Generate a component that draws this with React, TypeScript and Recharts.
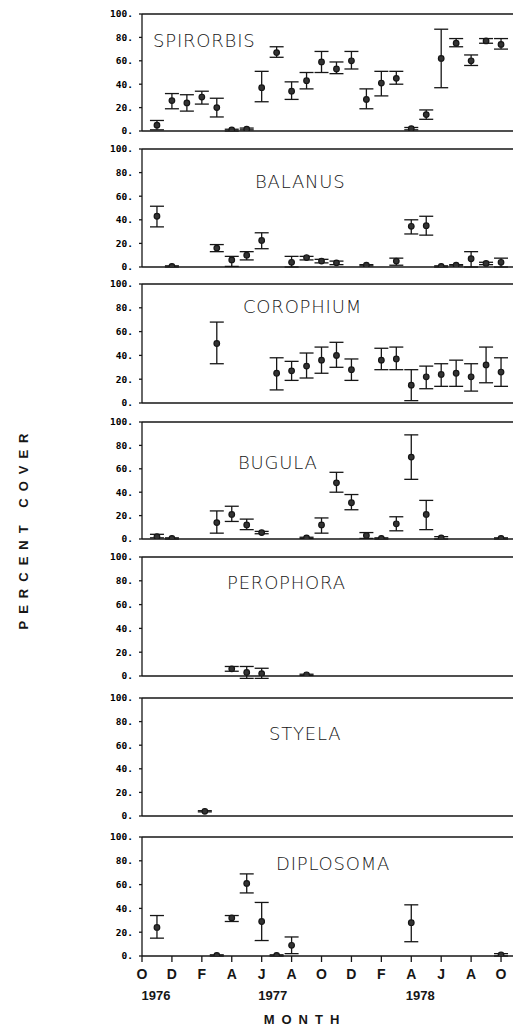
import { ErrorBar, Scatter, ScatterChart, XAxis, YAxis } from "recharts";

const INK = "#161616";

// month 0 = October 1976, month 24 = October 1978
const MONTH_TICKS = [0, 2, 4, 6, 8, 10, 12, 14, 16, 18, 20, 22, 24];
const MONTH_LETTERS = ["O", "D", "F", "A", "J", "A", "O", "D", "F", "A", "J", "A", "O"];
const Y_TICKS = [0, 20, 40, 60, 80, 100];
const YEAR_LABELS = [
  { at: 0, text: "1976", dx: 14 },
  { at: 8, text: "1977", dx: 11 },
  { at: 18, text: "1978", dx: 9 },
];

// percent cover: mean, lower and upper end of the bar
const spirorbisMonth = [1, 2, 3, 4, 5, 6, 7, 8, 9, 10, 11, 12, 13, 14, 15, 16, 17, 18, 19, 20, 21, 22, 23, 24];
const spirorbisMean = [5, 26, 24, 29, 20, 1, 1.5, 37, 67, 34, 43, 59, 53, 60, 27, 41, 45, 2, 14, 62, 75, 60, 77, 74];
const spirorbisLow = [1, 19, 17, 23, 12, 0, 1, 25, 63, 27, 36, 50, 49, 53, 19, 30, 40, 1, 10, 37, 72, 56, 75, 70];
const spirorbisHigh = [9, 32, 31, 34, 28, 1.5, 2.5, 51, 72, 42, 50, 68, 59, 68, 36, 51, 51, 3, 18, 87, 79, 65, 79, 79];

const balanusMonth = [1, 2, 5, 6, 7, 8, 10, 11, 12, 13, 15, 17, 18, 19, 20, 21, 22, 23, 24];
const balanusMean = [43, 0.5, 16, 6, 10, 22.5, 4, 8, 5, 3.5, 1.5, 5, 34.5, 35, 0.5, 1.5, 7, 3, 4];
const balanusLow = [34, 0, 13, 0.5, 6, 15.5, 0, 6, 3.5, 2, 1, 1.5, 28, 27, 0, 1, 0, 2, 0];
const balanusHigh = [51.5, 1, 19, 9, 13, 29, 9, 9, 6.5, 5, 2, 7.5, 40, 43, 1, 2, 13, 4, 7.5];

const corophiumMonth = [5, 9, 10, 11, 12, 13, 14, 16, 17, 18, 19, 20, 21, 22, 23, 24];
const corophiumMean = [50, 25, 27, 31, 36, 40, 28, 36, 37, 15, 22, 24, 25, 22, 32, 26];
const corophiumLow = [33, 11, 19, 21, 25, 30, 19, 28, 28, 2, 12, 14, 14, 10, 17, 14];
const corophiumHigh = [68, 38, 35, 42, 47, 51, 37, 46, 47, 28, 31, 33, 36, 33, 47, 38];

const bugulaMonth = [1, 2, 5, 6, 7, 8, 11, 12, 13, 14, 15, 16, 17, 18, 19, 20, 24];
const bugulaMean = [2, 0.5, 14, 21, 12, 5.5, 1, 12, 48, 31, 3, 0.5, 13, 70, 21, 1, 0.5];
const bugulaLow = [1, 0, 5, 15, 8, 4.5, 0.5, 5, 40, 25, 0.5, 0, 7, 51, 8, 0, 0];
const bugulaHigh = [4, 1, 24, 28, 17, 6.5, 1.5, 18, 57, 38, 5.5, 1, 19, 89, 33, 2, 1];

const perophoraMonth = [6, 7, 8, 11];
const perophoraMean = [6, 3, 2, 1];
const perophoraLow = [4, -2, -2, 0.5];
const perophoraHigh = [8, 8, 6.5, 1.5];

const styelaMonth = [4.2];
const styelaMean = [4];
const styelaLow = [3.5];
const styelaHigh = [4.5];

const diplosomaMonth = [1, 5, 6, 7, 8, 9, 10, 18, 24];
const diplosomaMean = [24, 0.5, 32, 61, 29, 0.5, 9, 28, 1];
const diplosomaLow = [15, 0, 29, 53, 13, 0, 2, 12, 0];
const diplosomaHigh = [34, 1, 34, 69, 45, 1, 16, 43, 2];

const SPECIES = [
  { name: "SPIRORBIS", month: spirorbisMonth, mean: spirorbisMean, low: spirorbisLow, high: spirorbisHigh },
  { name: "BALANUS", month: balanusMonth, mean: balanusMean, low: balanusLow, high: balanusHigh },
  { name: "COROPHIUM", month: corophiumMonth, mean: corophiumMean, low: corophiumLow, high: corophiumHigh },
  { name: "BUGULA", month: bugulaMonth, mean: bugulaMean, low: bugulaLow, high: bugulaHigh },
  { name: "PEROPHORA", month: perophoraMonth, mean: perophoraMean, low: perophoraLow, high: perophoraHigh },
  { name: "STYELA", month: styelaMonth, mean: styelaMean, low: styelaLow, high: styelaHigh },
  { name: "DIPLOSOMA", month: diplosomaMonth, mean: diplosomaMean, low: diplosomaLow, high: diplosomaHigh },
];

// page position of the 100 line and 0 line of each panel, and where its name sits
const PANELS = [
  { top: 14, bottom: 131, labelX: 153, labelY: 47 },
  { top: 149, bottom: 267, labelX: 255, labelY: 188 },
  { top: 284, bottom: 403, labelX: 243, labelY: 313 },
  { top: 422, bottom: 539, labelX: 238, labelY: 469 },
  { top: 557, bottom: 676, labelX: 227, labelY: 589 },
  { top: 698, bottom: 816, labelX: 269, labelY: 740 },
  { top: 837, bottom: 956, labelX: 276, labelY: 870 },
];

const W = 513;
const TOP_PAD = 12;
const axisStyle = { stroke: INK, strokeWidth: 1.3 };

function Dot(props: any) {
  const { cx, cy } = props;
  if (cx == null || cy == null) return null;
  return <circle cx={cx} cy={cy} r={2.8} fill="#333" stroke={INK} strokeWidth={1.2} />;
}

function MonthTick(props: any) {
  const { x, y, payload } = props;
  const i = MONTH_TICKS.indexOf(payload.value);
  const yr = YEAR_LABELS.find((l) => l.at === payload.value);
  return (
    <g>
      <text
        x={x}
        y={y + 15}
        textAnchor="middle"
        fill={INK}
        style={{ fontFamily: "'Liberation Sans Narrow', 'Liberation Sans', sans-serif", fontWeight: 700, fontSize: 14 }}
      >
        {MONTH_LETTERS[i]}
      </text>
      {yr && (
        <text
          x={x + yr.dx}
          y={y + 36}
          textAnchor="middle"
          fill={INK}
          style={{ fontFamily: "'Liberation Sans', sans-serif", fontWeight: 700, fontSize: 13 }}
        >
          {yr.text}
        </text>
      )}
    </g>
  );
}

function Panel({ idx }: { idx: number }) {
  const sp = SPECIES[idx];
  const pos = PANELS[idx];
  const last = idx === SPECIES.length - 1;
  const bottomPad = last ? 1027 - pos.bottom : 10;
  const h = TOP_PAD + (pos.bottom - pos.top) + bottomPad;

  const data = sp.month.map((m, i) => ({
    m,
    v: sp.mean[i],
    err: [sp.mean[i] - sp.low[i], sp.high[i] - sp.mean[i]],
  }));

  return (
    <div style={{ position: "absolute", left: 0, top: pos.top - TOP_PAD }}>
      <ScatterChart width={W} height={h} margin={{ top: 0, right: 0, bottom: 0, left: 0 }}>
        <XAxis
          xAxisId="t"
          orientation="top"
          type="number"
          dataKey="m"
          domain={[0, 24.8]}
          ticks={MONTH_TICKS}
          height={TOP_PAD}
          tick={false}
          tickSize={9}
          axisLine={axisStyle}
          tickLine={axisStyle}
        />
        <XAxis
          xAxisId="b"
          type="number"
          dataKey="m"
          domain={[0, 24.8]}
          ticks={MONTH_TICKS}
          height={bottomPad}
          tick={last ? <MonthTick /> : false}
          tickSize={6}
          axisLine={axisStyle}
          tickLine={axisStyle}
        />
        <YAxis
          type="number"
          dataKey="v"
          domain={[0, 100]}
          ticks={Y_TICKS}
          allowDataOverflow
          width={142}
          tickSize={3}
          tickMargin={6}
          tickFormatter={(v: number) => `${v}.`}
          axisLine={axisStyle}
          tickLine={axisStyle}
          tick={{ fill: "#000", fontSize: 9.5, fontWeight: 700, fontFamily: "'DejaVu Sans Mono', monospace" }}
        />
        <Scatter xAxisId="b" data={data} dataKey="v" shape={Dot} isAnimationActive={false}>
          <ErrorBar dataKey="err" direction="y" width={7} stroke={INK} strokeWidth={1.3} isAnimationActive={false} />
        </Scatter>
      </ScatterChart>
    </div>
  );
}

export default function App() {
  return (
    <div style={{ position: "absolute", left: 0, top: 0, width: W, height: 1027, overflow: "hidden", background: "#fff" }}>
      {SPECIES.map((_, i) => (
        <Panel key={i} idx={i} />
      ))}
      <svg width={W} height={1027} style={{ position: "absolute", left: 0, top: 0, pointerEvents: "none" }}>
        {SPECIES.map((sp, i) => (
          <text
            key={sp.name}
            x={PANELS[i].labelX}
            y={PANELS[i].labelY}
            fill={INK}
            style={{ fontFamily: "'DejaVu Sans', sans-serif", fontWeight: 200, fontSize: 18, letterSpacing: 0.8 }}
          >
            {sp.name}
          </text>
        ))}
        <text
          x={23}
          y={528}
          transform="rotate(-90 23 528)"
          textAnchor="middle"
          dominantBaseline="central"
          fill={INK}
          style={{ fontFamily: "'Liberation Sans', sans-serif", fontWeight: 700, fontSize: 13, letterSpacing: 7 }}
        >
          PERCENT COVER
        </text>
        <text
          x={305}
          y={1024}
          textAnchor="middle"
          fill={INK}
          style={{ fontFamily: "'Liberation Sans', sans-serif", fontWeight: 700, fontSize: 13, letterSpacing: 7 }}
        >
          MONTH
        </text>
      </svg>
    </div>
  );
}
